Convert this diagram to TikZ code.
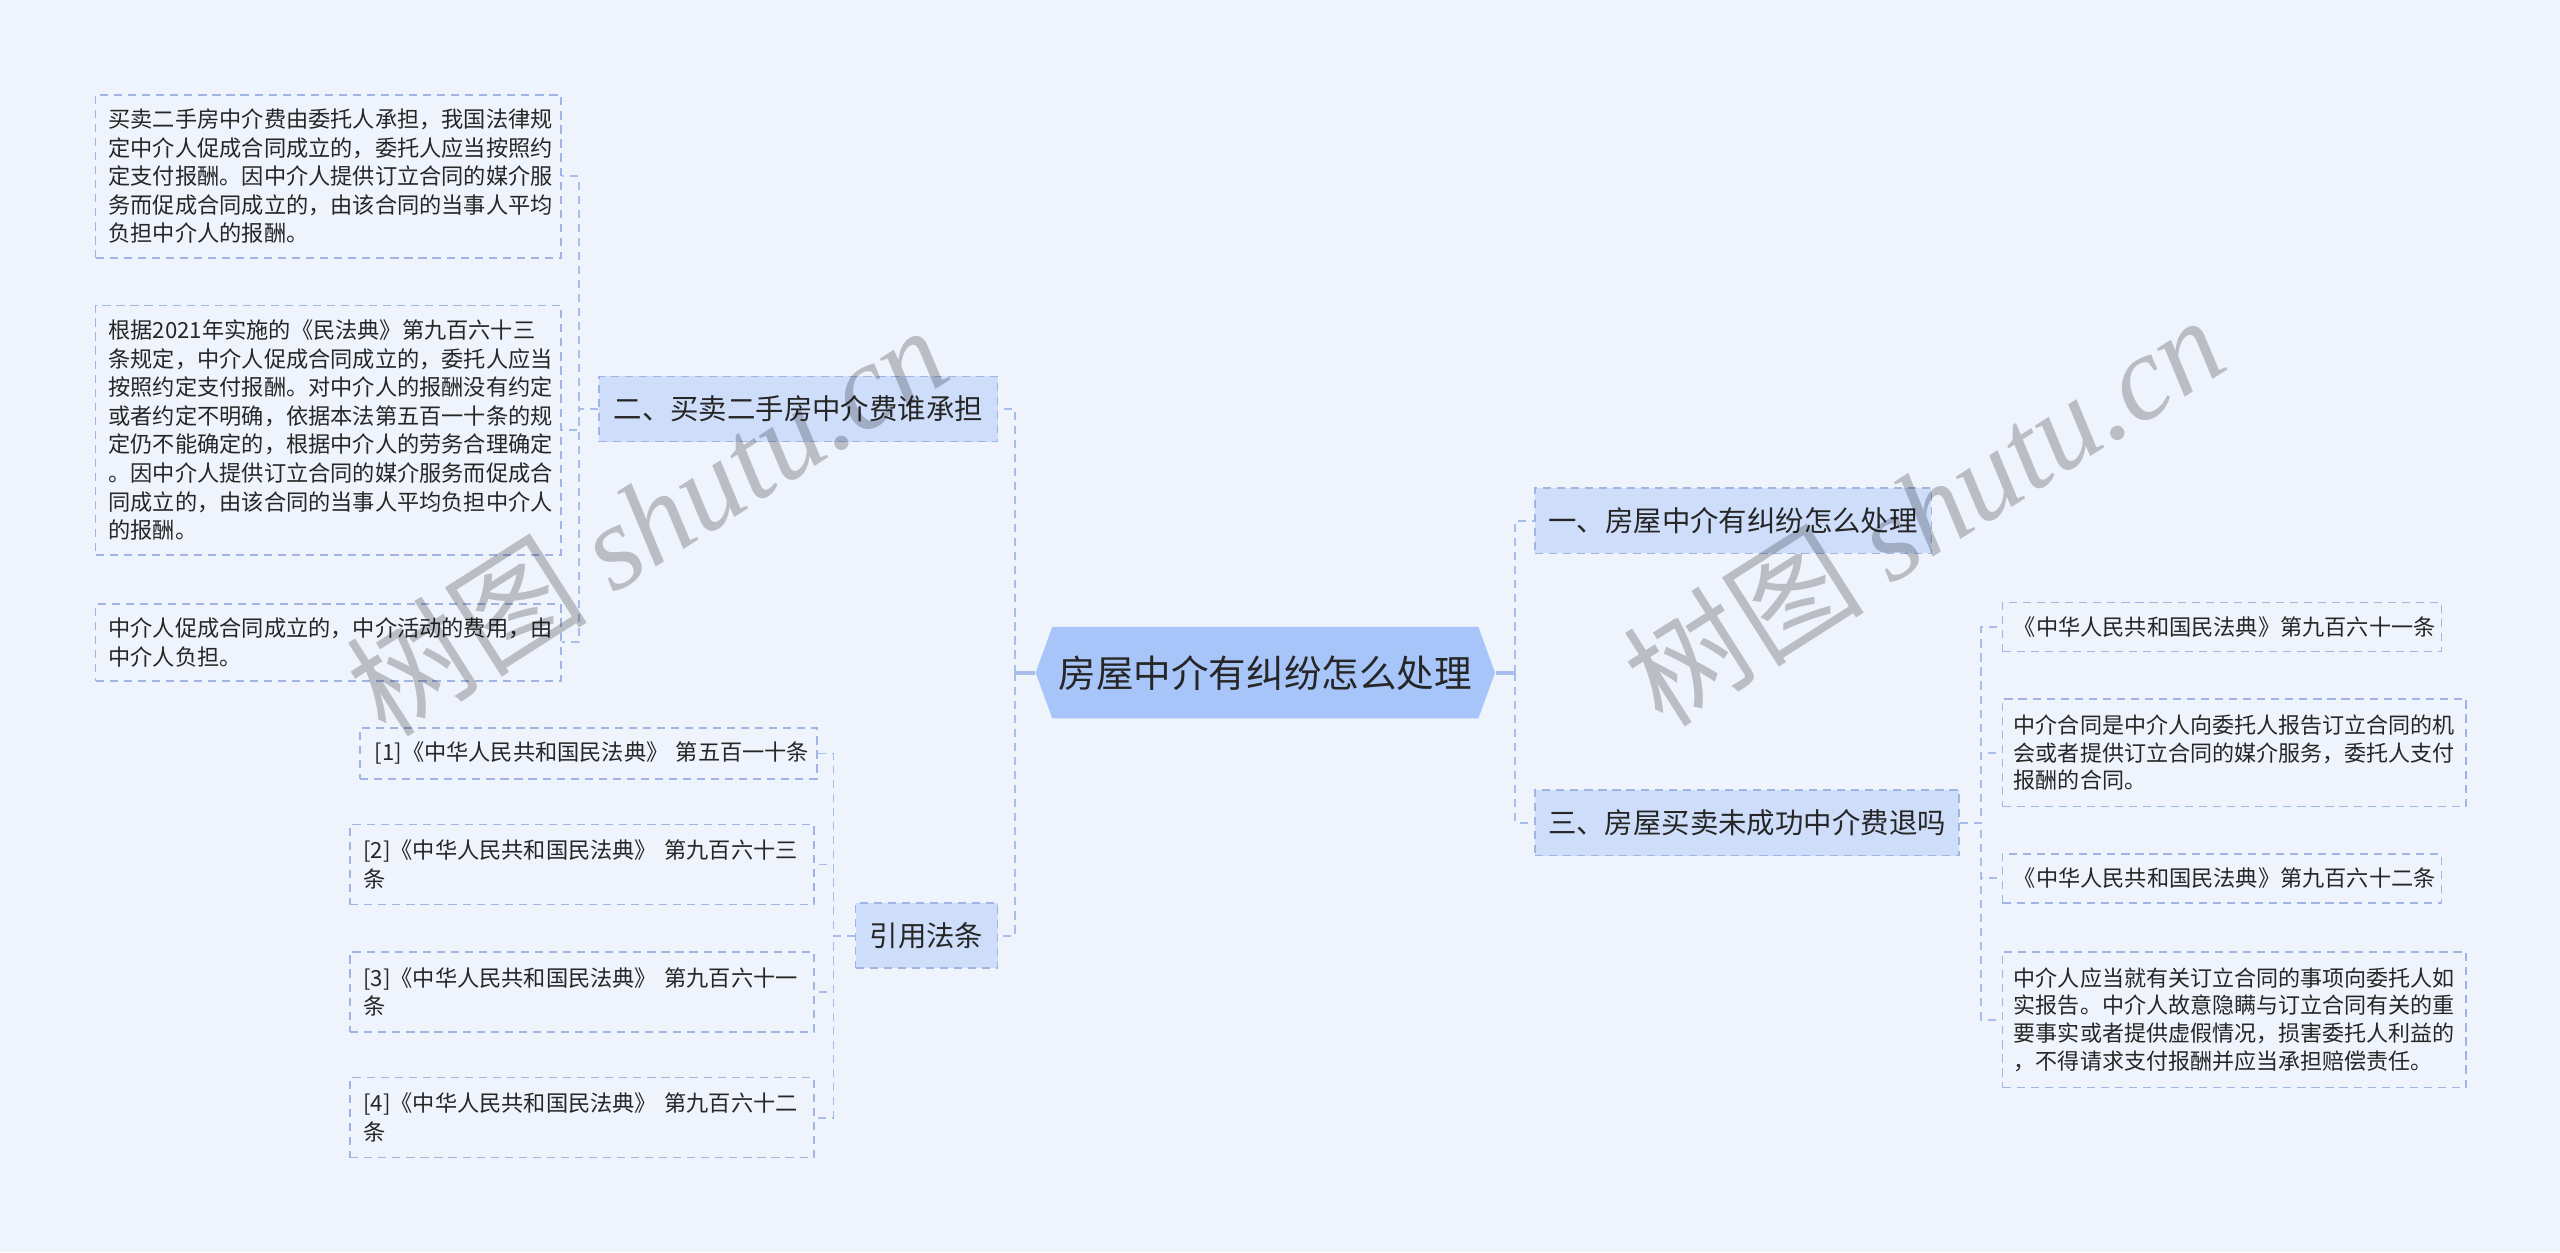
\documentclass[tikz,border=0pt]{standalone}
\usepackage{fontspec}
\setmainfont{Noto Sans CJK SC}
\newfontfamily\wmlatin{Liberation Serif}
\usepackage{tikz}
\usetikzlibrary{shapes.symbols}
\definecolor{bgc}{RGB}{239,243,251}
\definecolor{rootc}{RGB}{168,197,250}
\definecolor{topicc}{RGB}{206,221,250}
\definecolor{edgec}{RGB}{160,181,228}
\definecolor{linec}{RGB}{168,189,233}
\definecolor{ink}{RGB}{38,38,38}

\begin{document}
\begin{tikzpicture}[
    x=0.5pt, y=-0.5pt,
    font=\fontsize{6.8}{8.75}\selectfont,
    dashline/.style={dash pattern=on 2.5pt off 1.8pt},
    root/.style={signal, signal to=west and east, signal pointer angle=140,
        fill=rootc, text=ink, font=\fontsize{11.5}{14}\selectfont,
        minimum width=139pt, minimum height=28pt, inner xsep=2pt},
    topic/.style={draw=edgec, dashline, line width=0.5pt, fill=topicc, text=ink,
        font=\fontsize{8.7}{10}\selectfont, minimum height=20pt},
    leaf/.style={draw=edgec, dashline, line width=0.5pt, text=ink, align=left,
        anchor=west, inner xsep=4pt, inner ysep=0pt},
    twig/.style={draw=linec, dashline, line width=0.6pt},
    trunk/.style={draw=linec, line width=1.2pt},
    watermark/.style={text=black, text opacity=0.22, rotate=32.5, anchor=center,
        font=\fontsize{37}{37}\selectfont}
]
\useasboundingbox (0,0) rectangle (1568,767);
\fill[bgc] (0,0) rectangle (1568,767);

% centre and first level
\node[root] (root) at (775,412) {房屋中介有纠纷怎么处理};
\node[topic, minimum width=122pt] (b2) at (489,250.5) {二、买卖二手房中介费谁承担};
\node[topic, minimum width=43.5pt] (b4) at (567.5,573) {引用法条};
\node[topic, minimum width=121.5pt] (b1) at (1061.5,319) {一、房屋中介有纠纷怎么处理};
\node[topic, minimum width=130pt] (b3) at (1070,504) {三、房屋买卖未成功中介费退吗};

% leaves of b2
\node[leaf, text width=134.5pt, minimum height=50pt] (l1) at (58,108)
  {买卖二手房中介费由委托人承担，我国法律规\\定中介人促成合同成立的，委托人应当按照约\\定支付报酬。因中介人提供订立合同的媒介服\\务而促成合同成立的，由该合同的当事人平均\\负担中介人的报酬。};
\node[leaf, text width=134.5pt, minimum height=76.5pt] (l2) at (58,263.5)
  {根据2021年实施的《民法典》第九百六十三\\条规定，中介人促成合同成立的，委托人应当\\按照约定支付报酬。对中介人的报酬没有约定\\或者约定不明确，依据本法第五百一十条的规\\定仍不能确定的，根据中介人的劳务合理确定\\。因中介人提供订立合同的媒介服务而促成合\\同成立的，由该合同的当事人平均负担中介人\\的报酬。};
\node[leaf, text width=134.5pt, minimum height=23.5pt] (l3) at (58,393.5)
  {中介人促成合同成立的，中介活动的费用，由\\中介人负担。};

% leaves of b4
\node[leaf, text width=131pt, inner xsep=4.5pt, minimum height=15.5pt] (c1) at (220,461.5)
  {[1]《中华人民共和国民法典》~第五百一十条};
\foreach \i/\y/\art in {2/529.5/九百六十三, 3/607.5/九百六十一, 4/684.5/九百六十二}
  \node[leaf, text width=134pt, minimum height=24.5pt] (c\i) at (214,\y)
    {[\i]《中华人民共和国民法典》~第\art\\条};

% leaves of b3
\node[leaf, text width=127.5pt, inner xsep=3.5pt, minimum height=15pt] (r1) at (1226,384)
  {《中华人民共和国民法典》第九百六十一条};
\node[leaf, text width=135pt, inner xsep=3.5pt, minimum height=33pt,
      font=\fontsize{6.75}{8.5}\selectfont] (r2) at (1226,461)
  {中介合同是中介人向委托人报告订立合同的机\\会或者提供订立合同的媒介服务，委托人支付\\报酬的合同。};
\node[leaf, text width=127.5pt, inner xsep=3.5pt, minimum height=15pt] (r3) at (1226,538)
  {《中华人民共和国民法典》第九百六十二条};
\node[leaf, text width=135pt, inner xsep=3.5pt, minimum height=41.5pt,
      font=\fontsize{6.75}{8.5}\selectfont] (r4) at (1226,624.5)
  {中介人应当就有关订立合同的事项向委托人如\\实报告。中介人故意隐瞒与订立合同有关的重\\要事实或者提供虚假情况，损害委托人利益的\\，不得请求支付报酬并应当承担赔偿责任。};

% connectors
\draw[trunk] (root.west) -- ++(-12,0) coordinate (rl);
\draw[trunk] (root.east) -- ++(12,0) coordinate (rr);
\foreach \b in {b2,b4}
  \draw[twig] (rl) |- (\b.east);
\foreach \b in {b1,b3}
  \draw[twig] (rr) |- (\b.west);
\foreach \l in {l1,l2,l3}
  \draw[twig] (b2.west) -- ++(-12,0) |- (\l.east);
\foreach \c in {c1,c2,c3,c4}
  \draw[twig] (b4.west) -- ++(-13,0) |- (\c.east);
\foreach \r in {r1,r2,r3,r4}
  \draw[twig] (b3.east) -- ++(13,0) |- (\r.west);

% watermark
\node[watermark] (wm1) at (396,318) {树图 {\wmlatin\itshape shutu.cn}};
\node[watermark] (wm2) at (1178,312) {树图 {\wmlatin\itshape shutu.cn}};
\end{tikzpicture}
\end{document}
